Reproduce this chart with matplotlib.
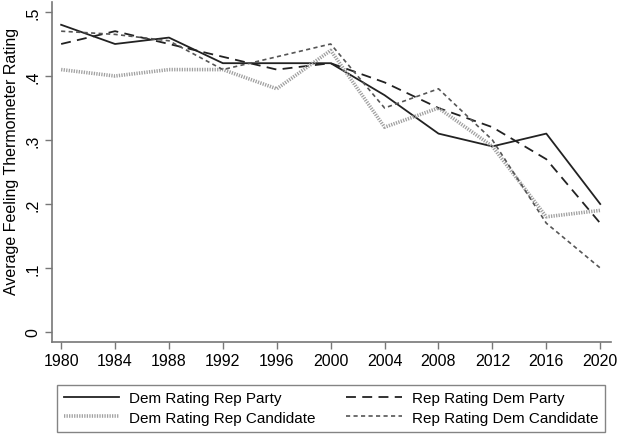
import matplotlib.pyplot as plt
from matplotlib.lines import Line2D

plt.rcParams["font.family"] = ["Liberation Sans", "DejaVu Sans"]

# Survey years and average feeling thermometer ratings (0-1 scale)
years = [1980, 1984, 1988, 1992, 1996, 2000, 2004, 2008, 2012, 2016, 2020]
dem_rep_party = [0.48, 0.45, 0.46, 0.42, 0.42, 0.42, 0.37, 0.31, 0.29, 0.31, 0.20]
rep_dem_party = [0.45, 0.47, 0.45, 0.43, 0.41, 0.42, 0.39, 0.35, 0.32, 0.27, 0.17]
dem_rep_cand = [0.41, 0.40, 0.41, 0.41, 0.38, 0.44, 0.32, 0.35, 0.29, 0.18, 0.19]
rep_dem_cand = [0.47, 0.465, 0.455, 0.41, 0.43, 0.45, 0.35, 0.38, 0.30, 0.17, 0.10]

y_ticks = [0, 0.1, 0.2, 0.3, 0.4, 0.5]
y_labels = ["0", ".1", ".2", ".3", ".4", ".5"]

fig = plt.figure(figsize=(6.18, 4.35), dpi=100)
ax = fig.add_axes([51.7 / 618, 1 - 343 / 435, (611 - 51.7) / 618, 340 / 435])

styles = [
    (dem_rep_party, "Dem Rating Rep Party", dict(color="#222222", lw=1.3, ls="-")),
    (rep_dem_party, "Rep Rating Dem Party", dict(color="#222222", lw=1.3, ls=(0, (5.5, 3.5)))),
    (dem_rep_cand, "Dem Rating Rep Candidate", dict(color="#a0a0a0", lw=2.6, ls=(0, (0.35, 0.35)))),
    (rep_dem_cand, "Rep Rating Dem Candidate", dict(color="#555555", lw=1.2, ls=(0, (2.5, 2)))),
]
for vals, label, st in styles:
    ax.plot(years, vals, label=label, **st)

ax.set_xlim(1979.3, 2020.8)
ax.set_ylim(-0.0156, 0.5156)
ax.set_xticks(years)
ax.set_yticks(y_ticks)
ax.set_yticklabels(y_labels, rotation=90, va="center")
ax.tick_params(axis="both", colors="#777777", labelcolor="black", labelsize=11.5,
               length=5, width=1, pad=3)

for side in ["top", "right"]:
    ax.spines[side].set_visible(False)
for side in ["left", "bottom"]:
    ax.spines[side].set_color("#777777")
    ax.spines[side].set_linewidth(1.2)

# y title placed directly in figure coordinates
fig.text(12 / 618, 1 - 161 / 435, "Average Feeling Thermometer Rating",
         rotation=90, ha="center", va="center", fontsize=11.5)

# two-column legend under the plot, filled row by row
handles = [Line2D([0], [0], label=s[1], **s[2]) for s in styles]
order = [0, 2, 1, 3]
leg = fig.legend(handles=[handles[i] for i in order], loc="lower left",
                 bbox_to_anchor=(57 / 618, 1 - 432.7 / 435, (605 - 57) / 618, 52.7 / 435),
                 mode="expand", ncol=2, fontsize=11, frameon=True, fancybox=False,
                 handlelength=3.64, handletextpad=0.65, borderaxespad=0,
                 borderpad=0.45, labelspacing=0.35, columnspacing=1.5)
leg.get_frame().set_edgecolor("#666666")
leg.get_frame().set_linewidth(1.0)

fig.savefig("out.png", dpi=100)
